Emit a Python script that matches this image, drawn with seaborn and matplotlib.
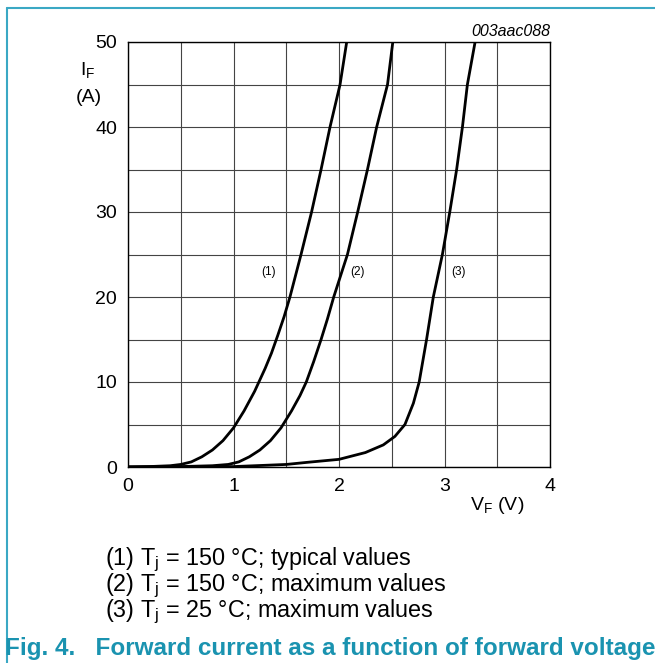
import numpy as np
import pandas as pd
import matplotlib
matplotlib.use("Agg")
from matplotlib import pyplot as plt
import seaborn as sns

# forward current curves
v1 = [0.0, 0.2, 0.4, 0.5, 0.6, 0.7, 0.8, 0.9, 1.0, 1.1, 1.2, 1.3, 1.36, 1.42, 1.48, 1.535, 1.64, 1.74, 1.83, 1.915, 2.01, 2.073]
i1 = [0.0, 0.05, 0.15, 0.3, 0.6, 1.2, 2.0, 3.1, 4.6, 6.6, 8.9, 11.6, 13.4, 15.5, 17.7, 20, 25, 30, 35, 40, 45, 50]

v2 = [0.0, 0.5, 0.8, 0.95, 1.05, 1.15, 1.25, 1.35, 1.45, 1.55, 1.63, 1.69, 1.76, 1.83, 1.89, 1.95, 2.08, 2.177, 2.27, 2.357, 2.46, 2.51]
i2 = [0.0, 0.05, 0.15, 0.3, 0.6, 1.2, 2.0, 3.1, 4.6, 6.6, 8.4, 10, 12.4, 15, 17.4, 20, 25, 30, 35, 40, 45, 50]

v3 = [0.0, 0.5, 1.0, 1.5, 1.7, 2.0, 2.25, 2.42, 2.53, 2.625, 2.705, 2.76, 2.83, 2.894, 2.98, 3.05, 3.115, 3.17, 3.217, 3.29]
i3 = [0.0, 0.0, 0.05, 0.3, 0.55, 0.9, 1.7, 2.6, 3.6, 5.0, 7.5, 10, 15, 20, 25, 30, 35, 40, 45, 50]

curve_labels = ["(1)", "(2)", "(3)"]
label_v = [1.33, 2.18, 3.13]
label_i = [23, 23, 23]

legend_lines = [
    r"(1) T$_\mathregular{j}$ = 150 °C; typical values",
    r"(2) T$_\mathregular{j}$ = 150 °C; maximum values",
    r"(3) T$_\mathregular{j}$ = 25 °C; maximum values",
]

sns.set_style("white")
plt.rcParams['font.family'] = ['Liberation Sans', 'DejaVu Sans']
plt.rcParams['mathtext.fontset'] = 'custom'
plt.rcParams['mathtext.rm'] = 'Liberation Sans'
plt.rcParams['text.color'] = 'black'
plt.rcParams['xtick.color'] = 'black'
plt.rcParams['ytick.color'] = 'black'

teal = "#1a93b0"

fig = plt.figure(figsize=(6.55, 6.63), dpi=100)
ax = fig.add_axes([128 / 655, 1 - 467 / 663, 422 / 655, 425 / 663])

for v, i in [(v1, i1), (v2, i2), (v3, i3)]:
    df = pd.DataFrame({"V": v, "I": i})
    sns.lineplot(data=df, x="V", y="I", color="black", linewidth=2.0,
                 sort=False, estimator=None, ax=ax)

for lab, x, y in zip(curve_labels, label_v, label_i):
    ax.text(x, y, lab, fontsize=8.5, ha="center", va="center")

ax.set_xlim(0, 4)
ax.set_ylim(0, 50)
ax.set_xticks(np.arange(0, 4.01, 0.5), minor=True)
ax.set_yticks(np.arange(0, 50.1, 5), minor=True)
ax.set_xticks([0, 1, 2, 3, 4])
ax.set_yticks([0, 10, 20, 30, 40, 50])
ax.set_xticklabels(["0", "1", "2", "3", "4"])
ax.set_yticklabels(["0", "10", "20", "30", "40", "50"])
ax.grid(True, which="both", color="#444444", linewidth=0.8)
ax.tick_params(which="both", length=0, labelsize=14, pad=8)
ax.set_xlabel("")
ax.set_ylabel("")
for s in ax.spines.values():
    s.set_color("black")
    s.set_linewidth(1.0)

fig.text(88 / 655, 1 - 71 / 663, r"I$_\mathregular{F}$", fontsize=14, ha="center", va="center")
fig.text(89 / 655, 1 - 97 / 663, "(A)", fontsize=14, ha="center", va="center")
fig.text(497 / 655, 1 - 505 / 663, r"V$_\mathregular{F}$ (V)", fontsize=14, ha="center", va="center")
fig.text(550 / 655, 1 - 31 / 663, "003aac088", fontsize=11.5, style="italic", ha="right", va="center")

for k, line in enumerate(legend_lines):
    fig.text(105 / 655, 1 - (560 + 26 * k) / 663, line, fontsize=16.8, ha="left", va="center")

fig.text(5 / 655, 1 - 649 / 663, "Fig. 4.   Forward current as a function of forward voltage",
         fontsize=17.5, fontweight="bold", color=teal, ha="left", va="center")

# teal frame on top and left
fig.add_artist(plt.Line2D([7 / 655, 1], [1 - 8 / 663, 1 - 8 / 663], color="#3aa8c4", linewidth=1.5))
fig.add_artist(plt.Line2D([7 / 655, 7 / 655], [0, 1 - 8 / 663], color="#3aa8c4", linewidth=1.5))

fig.savefig("out.png", dpi=100)
